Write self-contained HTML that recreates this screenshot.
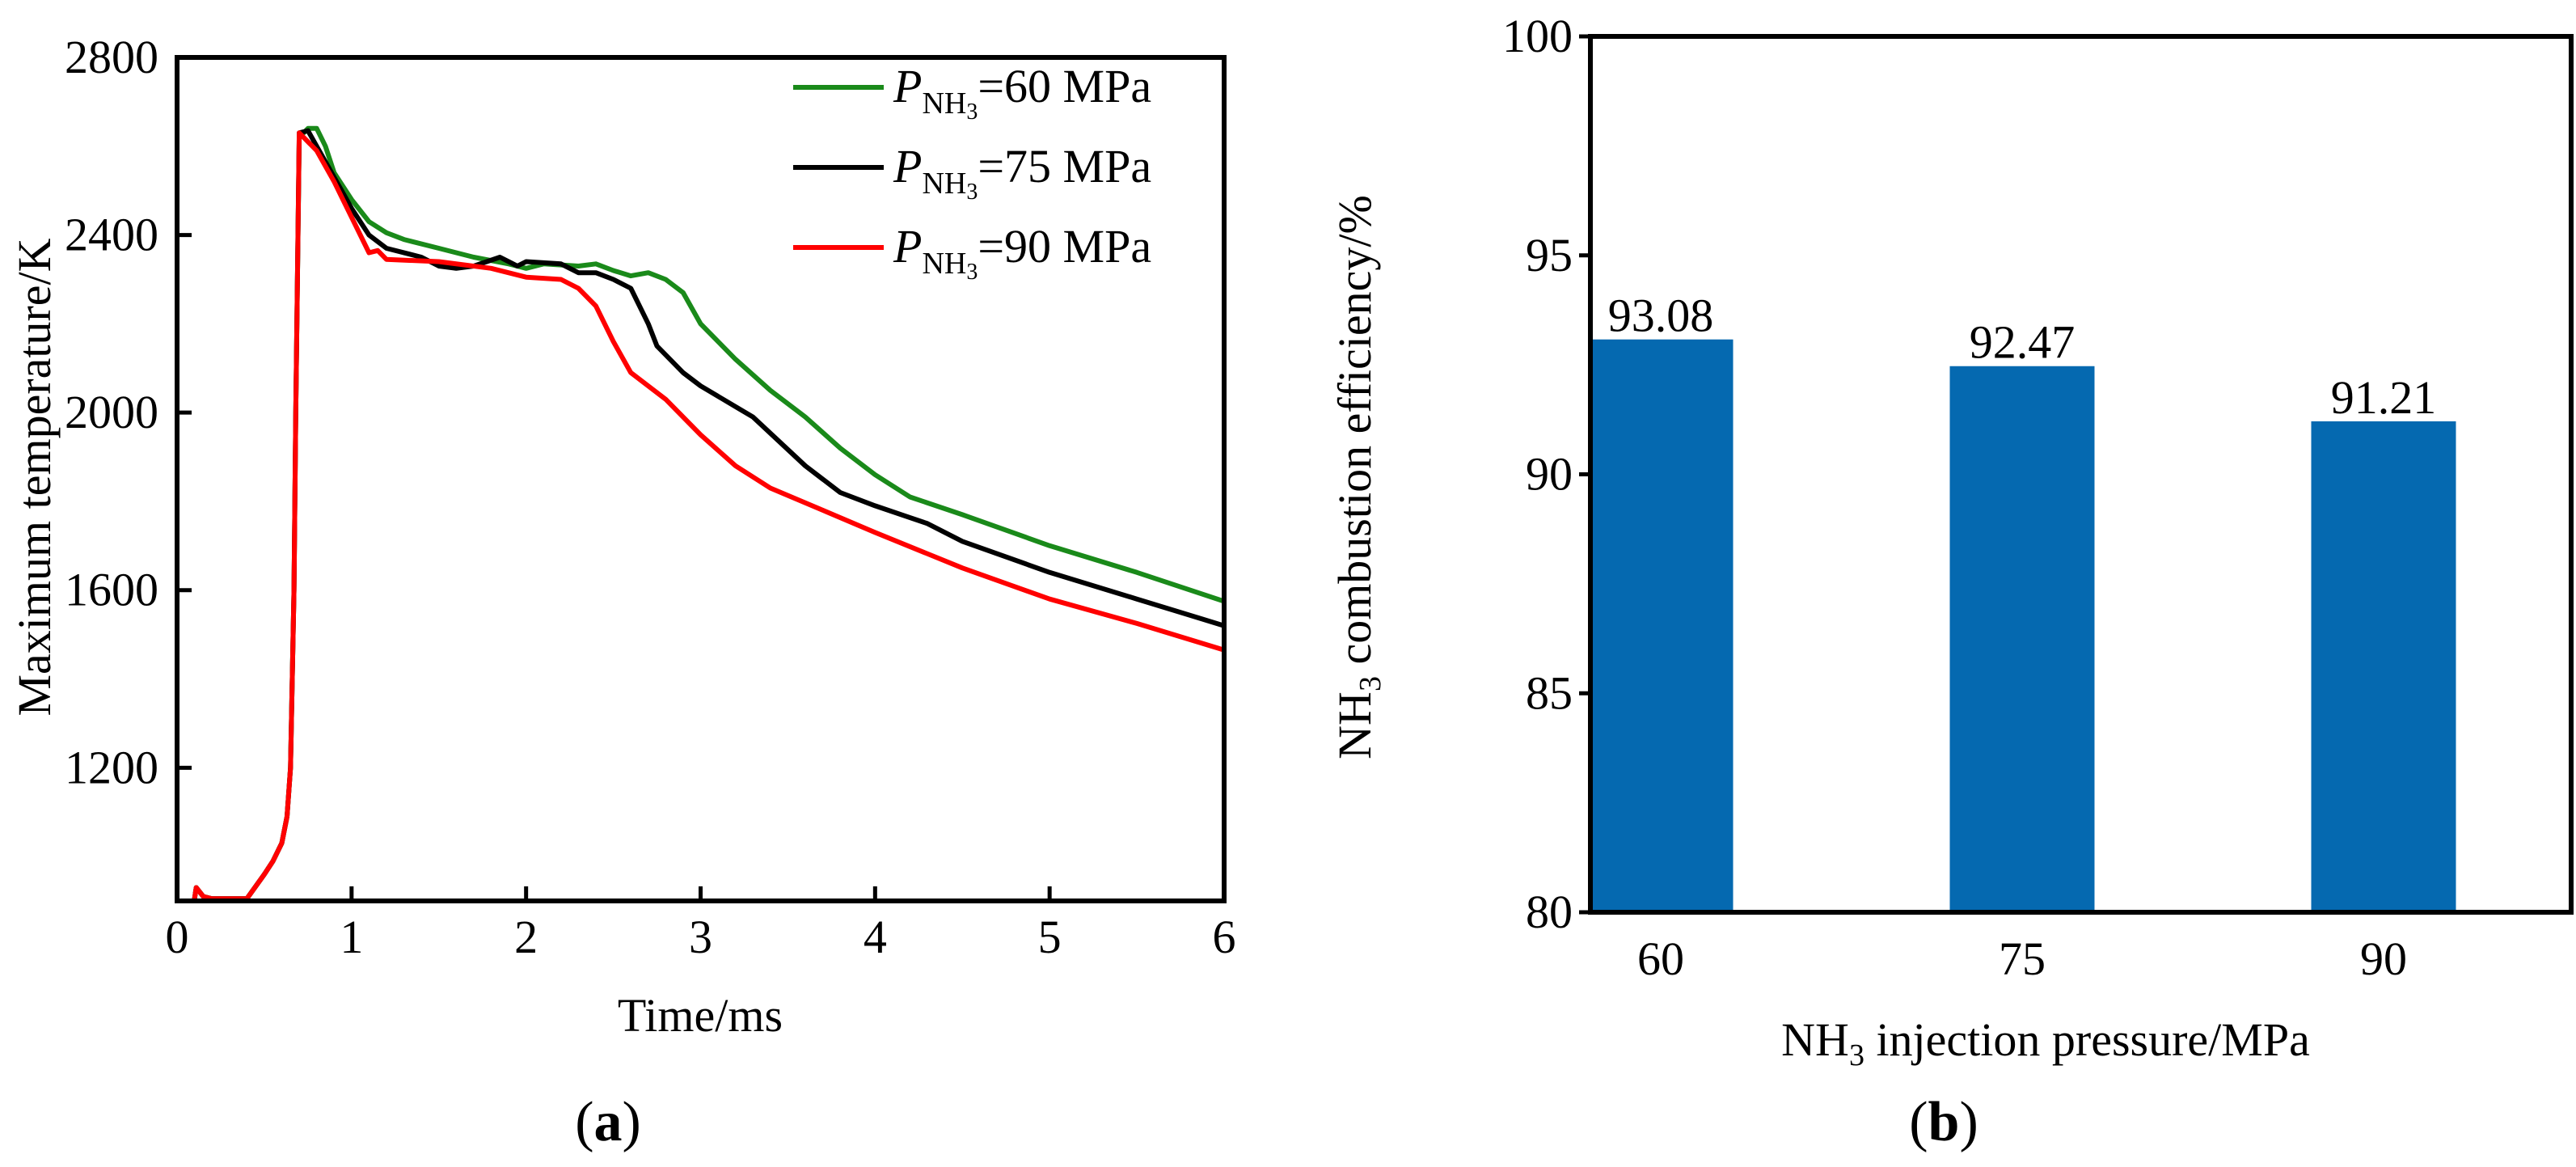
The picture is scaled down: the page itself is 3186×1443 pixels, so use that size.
<!DOCTYPE html>
<html><head><meta charset="utf-8"><style>
html,body{margin:0;padding:0;background:#fff}
svg text{font-family:"Liberation Serif","Times New Roman","DejaVu Serif",serif;fill:#000}
</style></head><body>
<svg id="fig" width="3186" height="1438" viewBox="0 0 3186 1438" xmlns="http://www.w3.org/2000/svg" font-family="Liberation Serif, DejaVu Serif, serif">
<g id="pa"></g>
<g id="pb"></g>
</svg>
<script>
const NS="http://www.w3.org/2000/svg";
// Panel (a) data
const xTicksA=[0,1,2,3,4,5,6];
const yTicksA=[1200,1600,2000,2400,2800];
const base_t=[0.1,0.11,0.15,0.2,0.3,0.4,0.5,0.55,0.6,0.63,0.65,0.67,0.68];
const base_v=[905,930,910,905,905,905,960,990,1030,1090,1200,1600,2000];
const t60=[0.7,0.75,0.8,0.85,0.9,1.0,1.1,1.2,1.3,1.5,1.7,1.9,2.0,2.1,2.3,2.4,2.5,2.6,2.7,2.8,2.9,3.0,3.2,3.4,3.6,3.8,4.0,4.2,4.5,5.0,5.5,6.0];
const v60=[2620,2640,2640,2600,2540,2480,2430,2405,2390,2370,2350,2335,2325,2335,2330,2335,2320,2308,2315,2300,2270,2200,2120,2050,1990,1920,1860,1810,1770,1700,1640,1575];
const t75=[0.7,0.75,0.8,0.9,1.0,1.1,1.2,1.4,1.5,1.6,1.7,1.85,1.95,2.0,2.2,2.3,2.4,2.5,2.6,2.7,2.75,2.9,3.0,3.3,3.6,3.8,4.0,4.3,4.5,5.0,5.5,6.0];
const v75=[2630,2635,2600,2530,2460,2400,2370,2350,2330,2325,2330,2350,2330,2340,2335,2315,2315,2300,2280,2200,2150,2090,2060,1990,1880,1820,1790,1750,1710,1640,1580,1520];
const t90=[0.7,0.8,0.9,1.0,1.1,1.15,1.2,1.5,1.8,2.0,2.2,2.3,2.4,2.5,2.6,2.8,3.0,3.2,3.4,3.7,4.0,4.5,5.0,5.5,6.0];
const v90=[2630,2590,2520,2440,2360,2365,2345,2340,2325,2305,2300,2280,2240,2160,2090,2030,1950,1880,1830,1780,1730,1650,1580,1525,1465];
const seriesNames=["60","75","90"];
// Panel (b) data
const cats=["60","75","90"];
const effVals=[93.08,92.47,91.21];
const yTicksB=[80,85,90,95,100];

function el(tag,attrs,parent,txt){const e=document.createElementNS(NS,tag);for(const k in attrs)e.setAttribute(k,attrs[k]);if(txt!==undefined)e.textContent=txt;parent.appendChild(e);return e;}
const FS=58;

// ---- Panel a
const pa=document.getElementById('pa');
const AX0=219,AX1=1514,AY0=71,AY1=1114;
const xA=t=>AX0+(t-0)/6*(AX1-AX0);
const yA=v=>AY1-(v-900)/(2800-900)*(AY1-AY0);
const clipA=el('clipPath',{id:'ca'},pa);el('rect',{x:AX0,y:AY0,width:AX1-AX0,height:AY1-AY0},clipA);
const cols={"60":"#1a8a1a","75":"#000000","90":"#ff0000"};
const dataA={"60":[t60,v60],"75":[t75,v75],"90":[t90,v90]};
["60","75","90"].forEach(function(s){
  const ts=base_t.concat(dataA[s][0]),vs=base_v.concat(dataA[s][1]);
  const d=ts.map((t,i)=>(i?'L':'M')+xA(t).toFixed(1)+','+yA(vs[i]).toFixed(1)).join('');
  const p=el('path',{d:d,fill:'none',stroke:cols[s],'stroke-width':6,'stroke-linejoin':'round','clip-path':'url(#ca)'},pa);
  
  
});
el('rect',{x:AX0,y:AY0,width:AX1-AX0,height:AY1-AY0,fill:'none',stroke:'#000','stroke-width':6,},pa);
xTicksA.forEach(function(t){
  el('line',{x1:xA(t),x2:xA(t),y1:AY1,y2:AY1-18,stroke:'#000','stroke-width':5},pa);
  const tx=el('text',{x:xA(t),y:1178,'font-size':FS,'text-anchor':'middle'},pa,String(t));
  
  
});
yTicksA.forEach(function(v){
  el('line',{x1:AX0,x2:AX0+18,y1:yA(v),y2:yA(v),stroke:'#000','stroke-width':5},pa);
  const tx=el('text',{x:196,y:yA(v)+19,'font-size':FS,'text-anchor':'end'},pa,String(v));
  
  
});
el('text',{x:866,y:1275,'font-size':FS,'text-anchor':'middle',},pa,'Time/ms');
el('text',{x:0,y:0,'font-size':FS,'text-anchor':'middle',transform:'translate(62,590) rotate(-90)',},pa,'Maximum temperature/K');
const la=el('text',{x:752,y:1410,'font-size':70,'text-anchor':'middle',},pa);
la.innerHTML='(<tspan font-weight="bold">a</tspan>)';
seriesNames.forEach(function(s,i){
  const y=108+i*99;
  const g=el('g',{},pa);
  
  
  el('line',{x1:981,x2:1093,y1:y,y2:y,stroke:cols[s],'stroke-width':6},g);
  const t=el('text',{x:1105,y:y+18,'font-size':FS},g);
  t.innerHTML='<tspan font-style="italic">P</tspan><tspan font-size="38" dy="14">NH</tspan><tspan font-size="28" dy="7">3</tspan><tspan dy="-21">='+s+' MPa</tspan>';
});

// ---- Panel b
const pb=document.getElementById('pb');
const BX0=1967,BX1=3180,BY0=45,BY1=1128;
const yB=v=>BY1-(v-80)/(100-80)*(BY1-BY0);
const xB=i=>2054+i*447;
const bw=179;
cats.forEach(function(c,i){
  const r=el('rect',{x:xB(i)-bw/2,y:yB(effVals[i]),width:bw,height:BY1-yB(effVals[i]),fill:'#0569b0'},pb);
  
  
  const t=el('text',{x:xB(i),y:yB(effVals[i])-10,'font-size':FS,'text-anchor':'middle'},pb,effVals[i].toFixed(2));
  
  
  const xl=el('text',{x:xB(i),y:1205,'font-size':FS,'text-anchor':'middle'},pb,c);
  
  
});
el('rect',{x:BX0,y:BY0,width:BX1-BX0,height:BY1-BY0,fill:'none',stroke:'#000','stroke-width':6,},pb);
yTicksB.forEach(function(v){
  el('line',{x1:BX0-14,x2:BX0,y1:yB(v),y2:yB(v),stroke:'#000','stroke-width':5},pb);
  const t=el('text',{x:1945,y:yB(v)+19,'font-size':FS,'text-anchor':'end'},pb,String(v));
  
  
});
const xt=el('text',{x:2530,y:1305,'font-size':FS,'text-anchor':'middle',},pb);
xt.innerHTML='NH<tspan font-size="38" dy="12">3</tspan><tspan dy="-12"> injection pressure/MPa</tspan>';
const yt=el('text',{x:0,y:0,'font-size':FS,'text-anchor':'middle',transform:'translate(1695,590) rotate(-90)',},pb);
yt.innerHTML='NH<tspan font-size="38" dy="12">3</tspan><tspan dy="-12"> combustion efficiency/%</tspan>';
const lb=el('text',{x:2404,y:1410,'font-size':70,'text-anchor':'middle',},pb);
lb.innerHTML='(<tspan font-weight="bold">b</tspan>)';
</script>
</body></html>
